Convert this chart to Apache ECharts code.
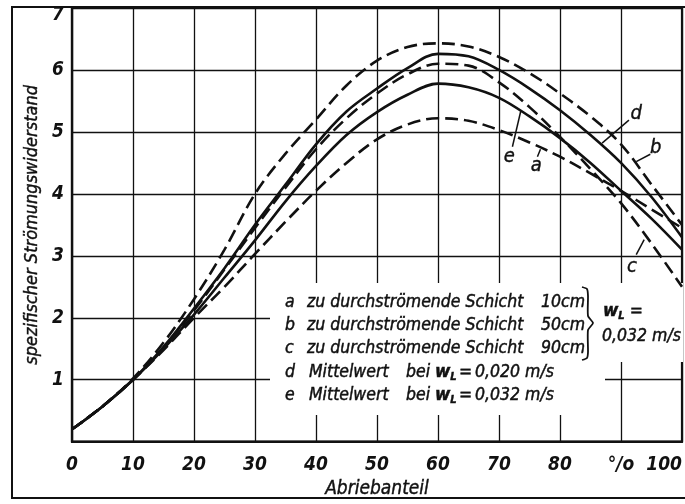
<!DOCTYPE html>
<html>
<head>
<meta charset="utf-8">
<script src="https://cdn.jsdelivr.net/npm/echarts@6/dist/echarts.min.js"></script>
<style>
html,body{margin:0;padding:0;background:#fff;}
#c{width:685px;height:504px;}
</style>
</head>
<body>
<div id="c"></div>
<script>
// ---- data ----
const xValues = [0,5,10,15,20,25,30,35,40,45,50,55,60,65,70,75,80,85,90,95,100];
const serA = [0.2,0.57,1.0,1.48,2.0,2.5,3.03,3.55,4.05,4.5,4.88,5.12,5.22,5.18,5.03,4.83,4.6,4.33,4.05,3.75,3.45];
const serB = [0.2,0.57,1.02,1.6,2.3,3.1,4.0,4.65,5.2,5.75,6.15,6.37,6.43,6.38,6.21,5.95,5.62,5.25,4.8,4.15,3.5];
const serC = [0.2,0.57,1.0,1.52,2.12,2.78,3.45,4.1,4.72,5.22,5.62,5.93,6.1,6.07,5.8,5.4,4.92,4.4,3.85,3.2,2.5];
const serD = [0.2,0.57,1.0,1.53,2.15,2.8,3.5,4.15,4.8,5.33,5.7,6.03,6.26,6.22,6.0,5.7,5.35,4.95,4.5,3.95,3.3];
const serE = [0.2,0.57,1.0,1.5,2.05,2.65,3.25,3.88,4.45,4.95,5.32,5.6,5.78,5.72,5.55,5.25,4.9,4.5,4.05,3.6,3.1];
const xTicks = [0,10,20,30,40,50,60,70,80,90,100];
const xTickLabels = ['0','10','20','30','40','50','60','70','80','°/o','100'];
const yTicks = [0,1,2,3,4,5,6,7];
const yTickLabels = ['','1','2','3','4','5','6','7'];
// curve labels: [text, labelX, labelY, leaderFromX, leaderFromY, leaderToX, leaderToY]
const curveLabels = [
  ['d', 92.5, 5.3, 91.3, 5.19, 86.9, 4.82],
  ['b', 95.7, 4.74, 94.8, 4.64, 92.5, 4.52],
  ['c', 91.8, 2.82, 92.5, 3.02, 93.8, 3.26],
  ['e', 71.7, 4.6, 72.2, 4.76, 73.6, 5.35],
  ['a', 76.1, 4.45, 76.3, 4.6, 76.8, 4.72]
];
const legendLetters = ['a','b','c','d','e'];
const legendLayer = ['zu durchströmende Schicht', 'zu durchströmende Schicht', 'zu durchströmende Schicht'];
const legendDepth = ['10cm', '50cm', '90cm'];
const legendMean = ['0,020 m/s', '0,032 m/s'];
const legendShared = '0,032 m/s';

const FONT = '"Liberation Sans Narrow","DejaVu Sans Condensed",sans-serif';
const chart = echarts.init(document.getElementById('c'), null, {renderer:'canvas'});

function mk(name, data, dashed){
  return {
    name: name, type: 'line', smooth: 0.35, symbol: 'none', z: 3,
    data: xValues.map((x,i)=>[x,data[i]]),
    lineStyle: {color:'#111', width: 2.6, type: dashed ? [13,6] : 'solid'}
  };
}

const option = {
  backgroundColor: '#fff',
  animation: false,
  grid: {left:72, top:8, right:2, bottom:62, show:true, borderColor:'#111', borderWidth:2.2, backgroundColor:'transparent'},
  xAxis: {
    type:'value', min:0, max:100, interval:10,
    name:'Abriebanteil', nameLocation:'middle', nameGap:31,
    nameTextStyle:{fontFamily:FONT, fontStyle:'italic', fontSize:19, color:'#111', textBorderColor:'#111', textBorderWidth:0.4},
    axisLine:{show:true, lineStyle:{color:'#111', width:2.2}},
    axisTick:{show:false},
    splitLine:{show:true, lineStyle:{color:'#111', width:1.3}},
    axisLabel:{fontFamily:FONT, fontStyle:'italic', fontWeight:'bold', fontSize:19, color:'#111', margin:14,
      alignMaxLabel:'right',
      formatter:(v)=>{const i=xTicks.indexOf(v); return i>=0?xTickLabels[i]:'';}}
  },
  yAxis: {
    type:'value', min:0, max:7, interval:1,
    name:'spezifischer Strömungswiderstand', nameLocation:'middle', nameGap:30,
    nameTextStyle:{fontFamily:FONT, fontStyle:'italic', fontSize:18, color:'#111', textBorderColor:'#111', textBorderWidth:0.4},
    axisLine:{show:true, lineStyle:{color:'#111', width:2.2}},
    axisTick:{show:false},
    splitLine:{show:true, lineStyle:{color:'#111', width:1.3}},
    axisLabel:{fontFamily:FONT, fontStyle:'italic', fontWeight:'bold', fontSize:19, color:'#111', margin:8,
      rich:{t:{fontFamily:FONT, fontStyle:'italic', fontWeight:'bold', fontSize:19, color:'#111', padding:[14,0,0,0]}},
      formatter:(v)=>{const i=yTicks.indexOf(v); if(i<0) return ''; return v===7 ? '{t|'+yTickLabels[i]+'}' : yTickLabels[i];}}
  },
  series: [mk('a',serA,true), mk('b',serB,true), mk('c',serC,true), mk('d',serD,false), mk('e',serE,false)]
};
chart.setOption(option);

// ---- annotations ----
const g = [];
g.push({type:'rect', shape:{x:12,y:7,width:690,height:491}, style:{fill:'none', stroke:'#111', lineWidth:2}, z:5, silent:true});
g.push({type:'rect', shape:{x:270,y:283,width:413,height:79}, style:{fill:'#fff'}, z:1, silent:true});
g.push({type:'rect', shape:{x:270,y:362,width:335,height:53}, style:{fill:'#fff'}, z:1, silent:true});

const LFS = 17.5;
const base = {fontFamily:FONT, fontStyle:'italic', fontSize:LFS, fill:'#111', verticalAlign:'middle', stroke:'#111', lineWidth:0.45};
const rich = {
  w:{fontFamily:FONT, fontStyle:'italic', fontSize:LFS+1, fontWeight:'bold', fill:'#111'},
  s:{fontFamily:FONT, fontStyle:'italic', fontSize:11, fontWeight:'bold', fill:'#111', padding:[10,0,0,0]}
};
function txt(x, y, t, extra){
  g.push({type:'text', x:x, y:y, z:6, style:Object.assign({}, base, {text:t, rich:rich}, extra||{})});
}
const rowY = [302, 325, 348, 372, 395];
legendLetters.forEach((l,i)=>txt(285, rowY[i], l));
legendLayer.forEach((t,i)=>{ txt(307, rowY[i], t); txt(541, rowY[i], legendDepth[i]); });
legendMean.forEach((v,j)=>{
  const y = rowY[3+j];
  txt(309, y, 'Mittelwert');
  txt(406, y, 'bei');
  txt(435, y, '{w|w}{s|L}');
  txt(459, y, '=');
  txt(475, y, v);
});
// brace
g.push({type:'polyline', z:6, shape:{points:[[582,287],[587,289],[588,296],[588,316],[593,323],[588,330],[588,352],[587,358],[582,360]], smooth:0.2}, style:{fill:'none', stroke:'#111', lineWidth:1.8}});
txt(603, 311, '{w|w}{s|L} =');
txt(602, 336, legendShared);

curveLabels.forEach(c=>{
  const p = chart.convertToPixel({gridIndex:0}, [c[1], c[2]]);
  const p1 = chart.convertToPixel({gridIndex:0}, [c[3], c[4]]);
  const p2 = chart.convertToPixel({gridIndex:0}, [c[5], c[6]]);
  g.push({type:'text', x:p[0], y:p[1], z:6, style:{text:c[0], fontFamily:FONT, fontStyle:'italic', fontSize:20, fill:'#111', stroke:'#111', lineWidth:0.4, align:'center', verticalAlign:'middle'}});
  g.push({type:'line', z:6, shape:{x1:p1[0], y1:p1[1], x2:p2[0], y2:p2[1]}, style:{stroke:'#111', lineWidth:1.5}});
});
chart.setOption({graphic:{elements:g}});
</script>
</body>
</html>
